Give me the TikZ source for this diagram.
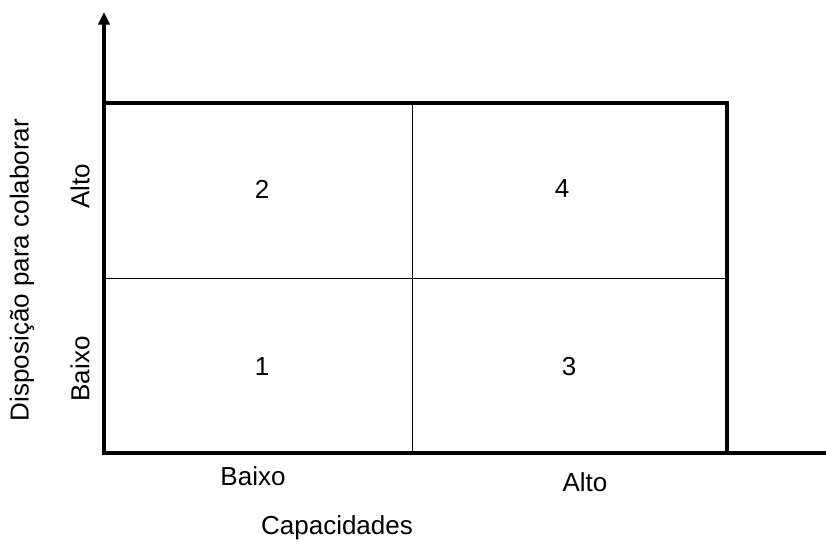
\documentclass[tikz,border=0pt]{standalone}
\usepackage{fontspec}
\setmainfont{Liberation Sans}
\usetikzlibrary{arrows.meta}

\tikzset{
  rotulo/.style={font=\fontsize{18.5}{20}\selectfont, inner sep=0pt},
  borda/.style={line width=2.2pt},
  divisao/.style={line width=0.7pt}
}

\begin{document}
\begin{tikzpicture}[x=0.025cm, y=-0.025cm]
\useasboundingbox (0,0) rectangle (826,545);
% cantos da matriz
\coordinate (SE) at (104,453);
\coordinate (NO) at (104,103);
\coordinate (NE) at (727,103);
\coordinate (SD) at (727,453);
\coordinate (topo) at (104,12);
\coordinate (fim) at (826,453);
\coordinate (meioN) at (412,103);
\coordinate (meioS) at (412,453);
\coordinate (meioO) at (104,278);
\coordinate (meioL) at (727,278);
% divisoes
\draw[divisao] (meioN) -- (meioS);
\draw[divisao] (meioO) -- (meioL);
% borda e eixos
\draw[borda] (SE) -- (SD) -- (NE) -- (NO) -- cycle;
\draw[borda, -{Triangle[length=9pt,width=8pt]}] (NO) -- (topo);
\draw[borda, line cap=butt] (SD) -- (fim);
% quadrantes
\node[rotulo] (q2) at (262,189) {2};
\node[rotulo] (q4) at (562,189) {4};
\node[rotulo] (q1) at (262,367) {1};
\node[rotulo] (q3) at (569,367) {3};
% eixo vertical
\node[rotulo, rotate=90] (altoY) at (80,186) {Alto};
\node[rotulo, rotate=90] (baixoY) at (80,369) {Baixo};
\node[rotulo, rotate=90] (disp) at (22,270) {Disposição para colaborar};
% eixo horizontal
\node[rotulo] (baixoX) at (253,476) {Baixo};
\node[rotulo] (altoX) at (585,482) {Alto};
\node[rotulo] (cap) at (337,528) {Capacidades};
\end{tikzpicture}
\end{document}
